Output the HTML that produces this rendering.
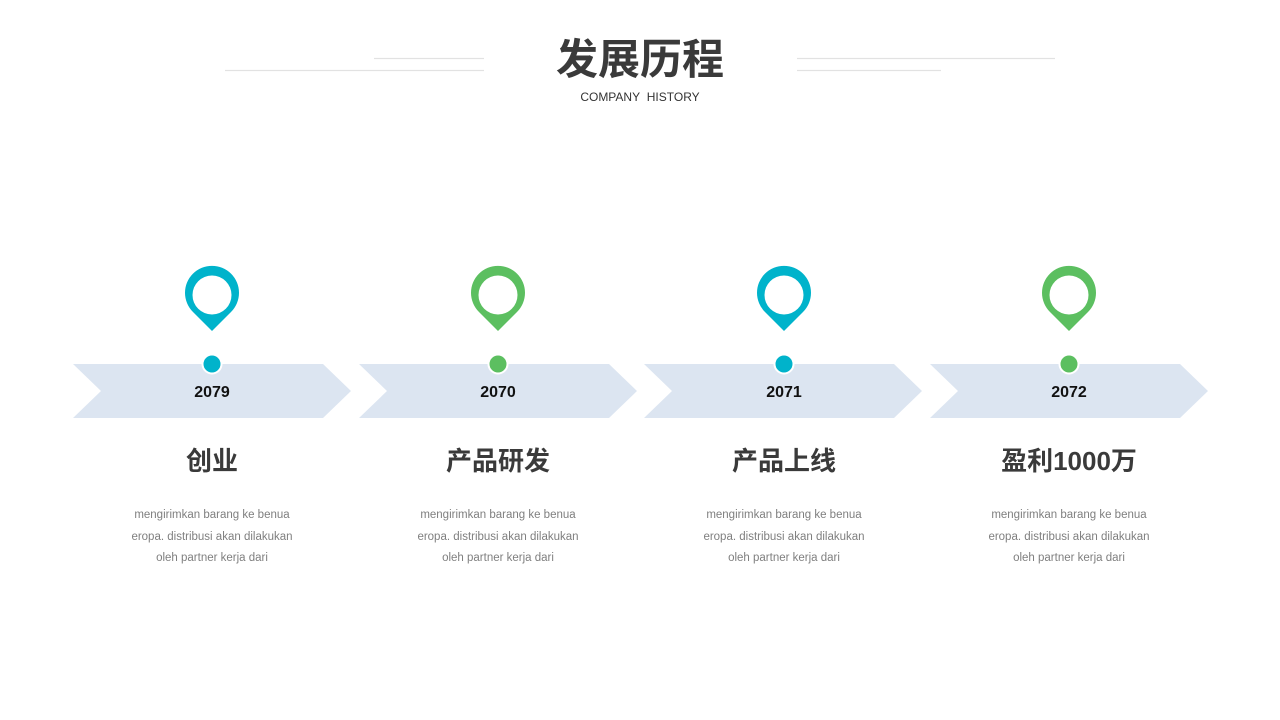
<!DOCTYPE html>
<html><head><meta charset="utf-8"><style>
body{margin:0;width:1280px;height:720px;background:#fff;position:relative;overflow:hidden;font-family:"Liberation Sans","Noto Sans CJK SC",sans-serif}
.t{position:absolute;text-align:center}
</style></head><body>
<svg width="1280" height="720" style="position:absolute;left:0;top:0">
<g stroke="#e2e2e2" stroke-width="1.2">
<line x1="374" y1="58.5" x2="484" y2="58.5"/><line x1="225" y1="70.5" x2="484" y2="70.5"/>
<line x1="797" y1="58.5" x2="1055" y2="58.5"/><line x1="797" y1="70.5" x2="941" y2="70.5"/>
</g>
<g fill="#dce5f1">
<polygon points="73,364 323,364 351,391 323,418 73,418 101,391"/>
<polygon points="359,364 609,364 637,391 609,418 359,418 387,391"/>
<polygon points="644,364 894,364 922,391 894,418 644,418 672,391"/>
<polygon points="930,364 1180,364 1208,391 1180,418 930,418 958,391"/>
</g>
<defs>
<g id="pin"><path d="M0,36 L-19,17 A27,27 0 1 1 19,17 Z"/></g>
</defs>
<g fill="#00b3cb"><use href="#pin" x="212" y="295"/><use href="#pin" x="784" y="295"/></g>
<g fill="#5cbf60"><use href="#pin" x="498" y="295"/><use href="#pin" x="1069" y="295"/></g>
<g fill="#fff"><circle cx="212" cy="295" r="19.5"/><circle cx="498" cy="295" r="19.5"/><circle cx="784" cy="295" r="19.5"/><circle cx="1069" cy="295" r="19.5"/></g>
<g stroke="#fff" stroke-width="2">
<circle cx="212" cy="364" r="9.5" fill="#00b3cb"/><circle cx="498" cy="364" r="9.5" fill="#5cbf60"/>
<circle cx="784" cy="364" r="9.5" fill="#00b3cb"/><circle cx="1069" cy="364" r="9.5" fill="#5cbf60"/>
</g>
</svg>
<div class="t" style="left:440px;width:400px;top:34px;font-size:42px;font-weight:bold;color:#3a3a3a;line-height:52px">发展历程</div>
<div class="t" style="left:440px;width:400px;top:90px;font-size:12px;color:#333">COMPANY&nbsp; HISTORY</div>

<div class="t" style="left:112px;width:200px;top:384px;font-size:16px;font-weight:bold;color:#111">2079</div>
<div class="t" style="left:398px;width:200px;top:384px;font-size:16px;font-weight:bold;color:#111">2070</div>
<div class="t" style="left:684px;width:200px;top:384px;font-size:16px;font-weight:bold;color:#111">2071</div>
<div class="t" style="left:969px;width:200px;top:384px;font-size:16px;font-weight:bold;color:#111">2072</div>

<div class="t" style="left:62px;width:300px;top:441px;font-size:26px;font-weight:bold;color:#3a3a3a">创业</div>
<div class="t" style="left:348px;width:300px;top:441px;font-size:26px;font-weight:bold;color:#3a3a3a">产品研发</div>
<div class="t" style="left:634px;width:300px;top:441px;font-size:26px;font-weight:bold;color:#3a3a3a">产品上线</div>
<div class="t" style="left:919px;width:300px;top:441px;font-size:26px;font-weight:bold;color:#3a3a3a">盈利1000万</div>

<div class="t" style="left:92px;width:240px;top:505px;font-size:11.5px;line-height:21.5px;color:#7f7f7f">mengirimkan barang ke benua<br>eropa. distribusi akan dilakukan<br>oleh partner kerja dari</div>
<div class="t" style="left:378px;width:240px;top:505px;font-size:11.5px;line-height:21.5px;color:#7f7f7f">mengirimkan barang ke benua<br>eropa. distribusi akan dilakukan<br>oleh partner kerja dari</div>
<div class="t" style="left:664px;width:240px;top:505px;font-size:11.5px;line-height:21.5px;color:#7f7f7f">mengirimkan barang ke benua<br>eropa. distribusi akan dilakukan<br>oleh partner kerja dari</div>
<div class="t" style="left:949px;width:240px;top:505px;font-size:11.5px;line-height:21.5px;color:#7f7f7f">mengirimkan barang ke benua<br>eropa. distribusi akan dilakukan<br>oleh partner kerja dari</div>
</body></html>
